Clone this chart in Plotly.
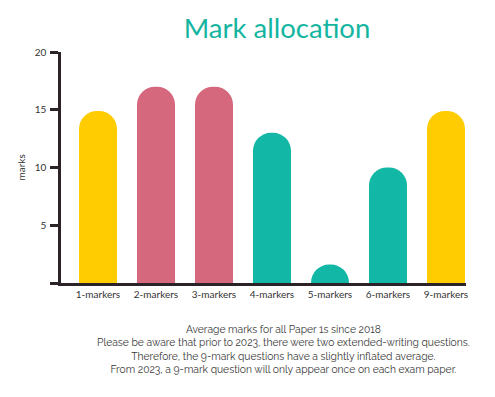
import plotly.graph_objects as go

categories = ["1-markers", "2-markers", "3-markers", "4-markers", "5-markers", "6-markers", "9-markers"]
marks = [14.9, 17.0, 17.0, 13.0, 1.6, 10.0, 14.9]
bar_colors = ["#FFCC02", "#D6687E", "#D6687E", "#13B7A6", "#13B7A6", "#13B7A6", "#FFCC02"]
y_tickvals = [0, 5, 10, 15, 20]
y_ticktext = ["", "5", "10", "15", "20"]
title_text = "Mark allocation"
y_label = "marks"
footnote_lines = [
    "Average marks for all Paper 1s since 2018",
    "Please be aware that prior to 2023, there were two extended-writing questions.",
    "Therefore, the 9-mark questions have a slightly inflated average.",
    "From 2023, a 9-mark question will only appear once on each exam paper.",
]

axis_color = "#2B2327"
W, H = 487, 389  # page body adds an 8px offset

fig = go.Figure(
    go.Bar(
        x=categories,
        y=marks,
        marker=dict(color=bar_colors, line=dict(width=0), cornerradius="50%"),
        width=0.655,
        hoverinfo="x+y",
    )
)

fig.update_layout(
    width=W,
    height=H,
    margin=dict(l=53, r=29, t=44, b=114),
    paper_bgcolor="white",
    plot_bgcolor="white",
    showlegend=False,
    title=dict(
        text=title_text,
        x=269 / W,
        xanchor="center",
        y=1 - 20 / H,
        yanchor="middle",
        font=dict(family="Lato, sans-serif", size=27.5, weight=400, color="#13B5A0"),
    ),
    font=dict(family="Lato, sans-serif", size=10, color="#333333"),
)

fig.update_xaxes(
    range=[-0.638, 6.345],
    showline=True,
    linecolor=axis_color,
    linewidth=2.5,
    ticks="",
    showgrid=False,
    tickfont=dict(family="Lato, sans-serif", size=10, color="#333333"),
    fixedrange=True,
)

fig.update_yaxes(
    range=[0, 20],
    tickvals=y_tickvals,
    ticktext=y_ticktext,
    showline=True,
    linecolor=axis_color,
    linewidth=2.5,
    ticks="outside",
    ticklen=8,
    tickwidth=2.5,
    tickcolor=axis_color,
    ticklabelstandoff=2,
    showgrid=False,
    zeroline=False,
    tickfont=dict(family="Lato, sans-serif", size=10, color="#333333"),
    fixedrange=True,
)

fig.add_annotation(
    text=y_label,
    xref="paper",
    yref="paper",
    x=(20 - 61) / 405,
    y=0.5,
    xanchor="center",
    yanchor="middle",
    textangle=-90,
    showarrow=False,
    font=dict(family="Lato, sans-serif", size=10, color="#333333"),
)

fig.add_annotation(
    text="<br>".join(footnote_lines),
    xref="paper",
    yref="paper",
    x=(283 - 61) / 405,
    y=(283 - 349) / 231,
    xanchor="center",
    yanchor="middle",
    align="center",
    showarrow=False,
    font=dict(family="Raleway, Lato, sans-serif", size=10.3, color="#3A3A3A"),
)

fig.write_html("out.html")
